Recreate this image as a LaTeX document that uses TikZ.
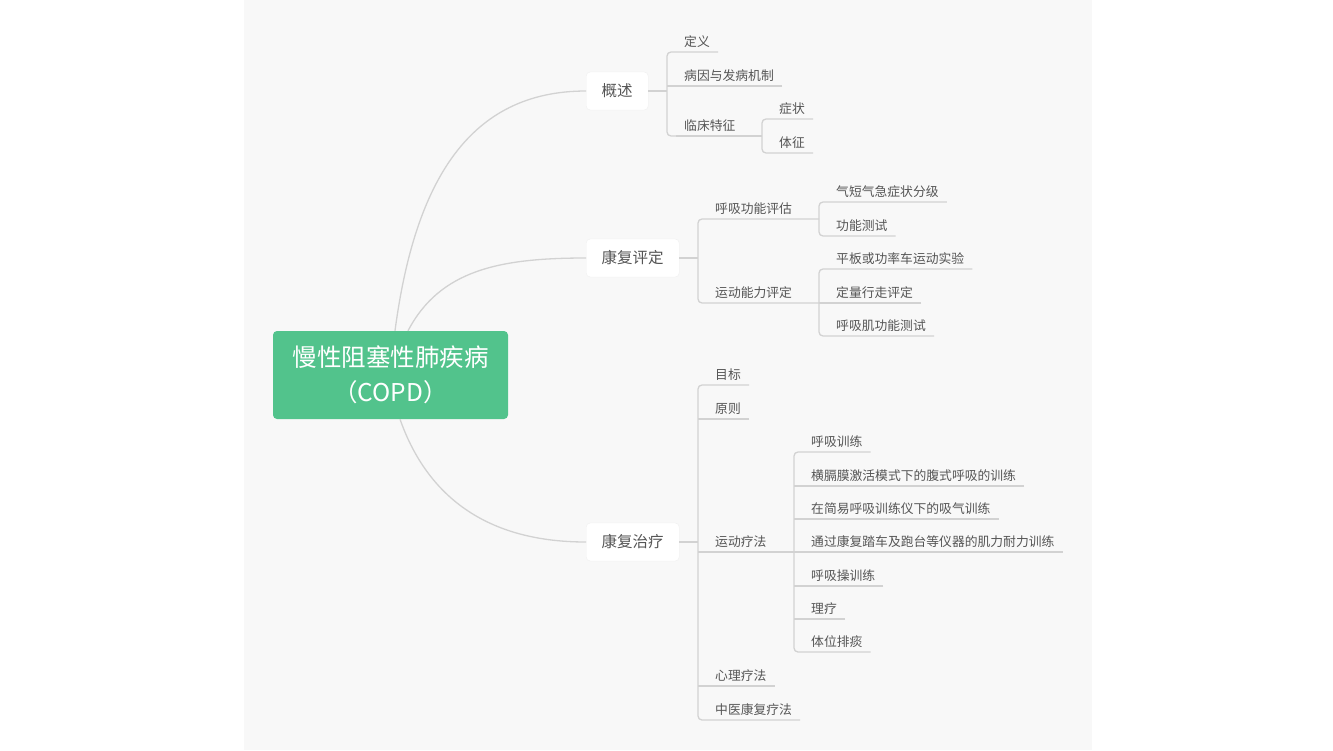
\documentclass[tikz,border=0pt]{standalone}
\usepackage{fontspec}
\setmainfont{Noto Sans CJK SC}
\definecolor{paper}{RGB}{248,248,248}
\definecolor{mint}{RGB}{82,195,140}
\definecolor{twig}{RGB}{210,210,210}
\definecolor{ink}{RGB}{85,85,85}
\begin{document}
\begin{tikzpicture}[x=1pt,y=-1pt,
  branch/.style={draw=twig,line width=1.3pt},
  rc/.style={rounded corners=4pt},
  topic/.style={anchor=west,fill=white,draw=black!6,rounded corners=4pt,minimum height=38pt,inner xsep=15.5pt,font=\fontsize{15.5}{18}\selectfont,text=ink},
  leaf/.style={anchor=south west,inner xsep=8pt,inner ysep=4pt,font=\fontsize{12.8}{15}\selectfont,text=ink}]
\useasboundingbox (0,0) rectangle (1333,750);
\fill[white] (0,0) rectangle (1333,750);
\fill[paper] (244,0) rectangle (1092,750);

\coordinate (s1) at (667,0);
\coordinate (s2) at (762,0);
\coordinate (s3) at (698,0);
\coordinate (s4) at (819,0);
\coordinate (s7) at (794,0);

\node[fill=mint,rounded corners=4pt,minimum width=235pt,minimum height=88pt,align=center,text=white,font=\fontsize{24.5}{35}\selectfont] (root) at (390.5,375) {慢性阻塞性肺疾病\\（COPD）};

\node[topic] (gs) at (586,91) {概述};
\node[topic] (eval) at (586,258) {康复评定};
\node[topic] (treat) at (586,542) {康复治疗};

\draw[branch] ([xshift=4.5pt]root.north) .. controls +(20,-151) and +(-116,0) .. (gs.west);
\draw[branch] ([xshift=17.5pt]root.north) .. controls +(32,-61) and +(-86,0) .. (eval.west);
\draw[branch] ([xshift=9.5pt]root.south) .. controls +(25,71) and +(-106,0) .. (treat.west);

\node[leaf] (def) at (676,52) {定义};
\node[leaf] (cause) at (676,86) {病因与发病机制};
\node[leaf] (clin) at (676,136) {临床特征};
\node[leaf] (symp) at (771,119) {症状};
\node[leaf] (sign) at (771,153) {体征};
\draw[branch] (gs.east) -- (gs.east -| s1);
\draw[branch,rc] (def.south east) -- (def.south east -| s1) |- (clin.south east);
\draw[branch] (cause.south east) -- (cause.south east -| s1);
\draw[branch] (clin.south west) -- (clin.south west -| s2);
\draw[branch,rc] (symp.south east) -- (symp.south east -| s2) |- (sign.south east);

\node[leaf] (resp) at (707,219) {呼吸功能评估};
\node[leaf] (motor) at (707,303) {运动能力评定};
\node[leaf] (dysp) at (828,202) {气短气急症状分级};
\node[leaf] (func) at (828,236) {功能测试};
\node[leaf] (tread) at (828,269) {平板或功率车运动实验};
\node[leaf] (walk) at (828,303) {定量行走评定};
\node[leaf] (musc) at (828,336) {呼吸肌功能测试};
\draw[branch] (eval.east) -- (eval.east -| s3);
\draw[branch,rc] (resp.south west -| s4) -- (resp.south west -| s3) |- (motor.south west -| s4);
\draw[branch,rc] (dysp.south east) -- (dysp.south east -| s4) |- (func.south east);
\draw[branch,rc] (tread.south east) -- (tread.south east -| s4) |- (musc.south east);
\draw[branch] (walk.south east) -- (walk.south east -| s4);

\node[leaf] (goal) at (707,385) {目标};
\node[leaf] (rule) at (707,419) {原则};
\node[leaf] (exer) at (707,552) {运动疗法};
\node[leaf] (psy) at (707,686) {心理疗法};
\node[leaf] (tcm) at (707,720) {中医康复疗法};
\draw[branch] (treat.east) -- (treat.east -| s3);
\draw[branch,rc] (goal.south east) -- (goal.south east -| s3) |- (tcm.south east);
\draw[branch] (rule.south east) -- (rule.south east -| s3);
\draw[branch] (exer.south west -| s3) -- (exer.south west -| s7);
\draw[branch] (psy.south east) -- (psy.south east -| s3);

\node[leaf] (br) at (803,452) {呼吸训练};
\node[leaf] (dia) at (803,486) {横膈膜激活模式下的腹式呼吸的训练};
\node[leaf] (insp) at (803,519) {在简易呼吸训练仪下的吸气训练};
\node[leaf] (endu) at (803,552) {通过康复踏车及跑台等仪器的肌力耐力训练};
\node[leaf] (gym) at (803,586) {呼吸操训练};
\node[leaf] (phys) at (803,619) {理疗};
\node[leaf] (drain) at (803,652) {体位排痰};
\draw[branch,rc] (br.south east) -- (br.south east -| s7) |- (drain.south east);
\foreach \n in {dia,insp,endu,gym,phys}
  \draw[branch] (\n.south east) -- (\n.south east -| s7);
\end{tikzpicture}
\end{document}
